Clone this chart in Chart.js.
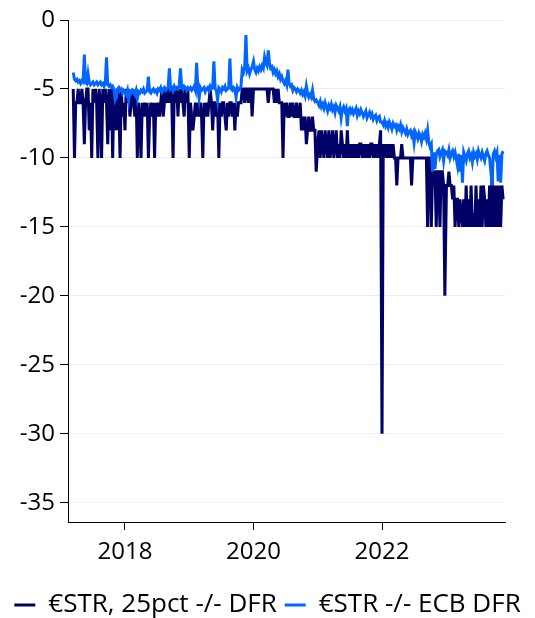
<!DOCTYPE html>
<html>
<head>
<meta charset="utf-8">
<script src="https://cdn.jsdelivr.net/npm/chart.js@4/dist/chart.umd.min.js"></script>
<style>
html, body {margin: 0; padding: 0; background: #fff}
#chart {display: block}
</style>
</head>
<body>
<canvas id="chart" width="535" height="618"></canvas>
<script>
'use strict'

//////////////////////////////////////////////////////////////////////
// weekly readings (bp), one array per year, first week given below
//////////////////////////////////////////////////////////////////////
const week_starts = ['2017-03-13', '2018-01-01', '2019-01-01', '2020-01-01', '2021-01-01', '2022-01-01', '2023-01-02']

// €STR, 25th percentile minus DFR
const pct25_2017 = [-5,-10,-6,-6,-5,-6,-6,-5,-6,-9, -6,-5,-5,-8,-6,-10,-5,-6,-5,-6, -10,-5,-6,-10,-5,-6,-5,-6,-9,-5, -8,-5,-10,-5,-6,-8,-5,-6,-10,-5, -7,-6]
const pct25_2018 = [-8,-5,-6,-5,-7,-6,-5,-6,-7,-5, -10,-6,-7,-10,-6,-7,-6,-7,-6,-10, -7,-6,-7,-6,-10,-6,-7,-6,-7,-6, -5,-7,-6,-5,-6,-5,-6,-5,-6,-10, -5,-6,-5,-7,-5,-6,-5,-6,-7,-5, -6,-5]
const pct25_2019 = [-10,-6,-7,-8,-7,-6,-7,-6,-7,-6, -7,-10,-6,-7,-6,-7,-6,-5,-6,-8, -6,-6,-7,-6,-10,-6,-7,-6,-6,-7, -8,-6,-7,-6,-6,-7,-6,-8,-6,-7, -6,-6,-6,-5,-5,-6,-5,-5,-6,-5, -5,-7]
const pct25_2020 = [-5,-5,-5,-5,-5,-5,-5,-5,-5,-5, -5,-5,-6,-5,-5,-5,-5,-6,-5,-6, -5,-6,-6,-6,-10,-6,-7,-6,-7,-7, -6,-7,-6,-7,-7,-6,-7,-7,-6,-8, -7,-8,-7,-9,-8,-7,-8,-8,-7,-8, -8,-11]
const pct25_2021 = [-9,-8,-10,-8,-9,-10,-8,-9,-10,-8, -10,-9,-8,-10,-9,-8,-10,-9,-10,-8, -9,-10,-9,-10,-8,-10,-9,-10,-9,-10, -9,-10,-9,-10,-9,-9,-10,-9,-10,-9, -10,-9,-10,-9,-9,-10,-9,-10,-9,-10, -9,-8]
const pct25_2022 = [-30,-9,-10,-9,-10,-9,-10,-9,-10,-9, -10,-10,-12,-10,-10,-10,-9,-10,-10,-10, -10,-10,-10,-10,-12,-10,-10,-10,-10,-10, -10,-10,-10,-10,-10,-10,-10,-15,-10,-10, -15,-11,-11,-11,-15,-11,-11,-15,-11,-11, -12,-20]
const pct25_2023 = [-12,-12,-11,-12,-12,-13,-12,-15,-13,-13, -15,-13,-14,-15,-13,-15,-12,-15,-13,-15, -12,-15,-14,-15,-12,-15,-13,-15,-12,-15, -12,-13,-15,-13,-15,-12,-15,-11,-15,-12, -15,-12,-15,-12,-15,-12,-13]

// €STR minus ECB DFR
const spread_2017 = [-3.8,-4.3,-4.4,-4.3,-4.5,-4.4,-4.6,-4.4,-4.5,-2.5, -4.5,-4.6,-3.9,-4.5,-4.7,-4.6,-4.5,-4.7,-4.6,-4.5, -4.7,-4.6,-4.5,-4.7,-4.6,-4.8,-4.6,-2.7,-4.7,-4.8, -4.7,-4.9,-4.8,-5.0,-5.8,-5.6,-5.0,-4.9,-5.1,-5.0, -5.3,-5.1]
const spread_2018 = [-5.2,-5.4,-5.1,-5.8,-5.2,-5.3,-5.1,-5.2,-5.4,-5.1, -5.7,-5.2,-5.3,-5.1,-5.2,-5.0,-5.3,-5.2,-5.1,-4.1, -5.2,-5.3,-5.1,-5.0,-5.2,-5.1,-5.3,-5.0,-5.1,-4.9, -5.2,-5.0,-4.9,-5.1,-5.0,-4.9,-3.5,-5.0,-4.9,-5.1, -4.8,-5.0,-4.9,-5.0,-4.8,-3.5,-4.9,-5.0,-4.8,-4.9, -5.1,-4.9]
const spread_2019 = [-5.0,-4.9,-5.1,-5.0,-4.8,-5.1,-3.1,-5.0,-5.7,-4.9, -5.1,-5.0,-4.9,-5.2,-5.0,-4.9,-5.1,-4.8,-5.0,-4.9, -3.0,-5.0,-5.1,-5.8,-4.9,-5.0,-5.2,-4.9,-5.0,-4.8, -5.1,-5.0,-4.9,-2.8,-5.0,-5.1,-4.9,-5.0,-5.6,-4.9, -5.1,-5.0,-4.8,-3.6,-3.8,-3.4,-1.1,-3.7,-3.5,-3.9, -3.6,-3.4]
const spread_2020 = [-3.0,-3.6,-3.8,-3.5,-3.7,-3.4,-3.6,-3.3,-3.5,-2.7, -3.1,-3.3,-2.2,-3.1,-3.5,-3.4,-3.8,-3.6,-3.9,-3.7, -4.1,-3.9,-4.3,-4.1,-4.4,-4.6,-4.4,-4.7,-3.6,-4.6, -4.8,-4.7,-5.1,-4.9,-5.0,-5.2,-5.0,-5.1,-5.3,-5.1, -5.4,-5.2,-5.5,-4.8,-5.3,-5.6,-5.4,-5.6,-5.1,-5.7, -5.9,-5.8]
const spread_2021 = [-6.0,-6.2,-5.9,-6.3,-6.1,-6.4,-6.0,-6.3,-6.6,-6.2, -6.4,-6.1,-6.5,-6.3,-6.7,-6.2,-6.4,-6.6,-6.3,-7.1, -6.5,-6.3,-6.6,-6.4,-7.7,-6.5,-6.4,-6.7,-6.5,-6.8, -6.6,-6.4,-6.9,-6.6,-6.8,-6.5,-6.7,-7.0,-6.8,-6.6, -7.1,-6.9,-6.7,-7.0,-6.8,-7.2,-7.0,-6.9,-7.3,-7.1, -7.0,-7.4]
const spread_2022 = [-7.4,-7.6,-7.3,-7.7,-7.5,-7.8,-7.4,-7.6,-7.9,-7.5, -7.7,-7.6,-8.0,-7.7,-7.9,-7.6,-8.1,-7.8,-8.0,-8.2, -7.9,-8.3,-8.1,-8.0,-8.4,-8.2,-8.9,-8.1,-8.3,-8.6, -8.2,-8.4,-8.8,-8.3,-8.5,-8.2,-8.6,-8.0,-8.9,-9.2, -9.0,-11.0,-9.6,-10.8,-9.8,-9.5,-9.4,-9.9,-9.6,-9.4, -10.2,-9.5]
const spread_2023 = [-9.6,-9.8,-9.4,-10.0,-9.7,-9.5,-9.9,-9.6,-10.1,-10.6, -9.7,-11.0,-9.8,-11.8,-9.6,-9.9,-10.2,-9.7,-9.5,-10.0, -9.8,-10.3,-9.6,-9.9,-9.7,-10.1,-9.5,-9.8,-10.0,-9.6, -9.9,-10.2,-9.7,-9.5,-9.8,-10.0,-10.9,-12.0,-9.7,-9.5, -9.9,-9.6,-11.7,-9.8,-11.8,-9.7,-9.5]

const series_names = ['€STR, 25pct -/- DFR', '€STR -/- ECB DFR']
const series_colors = ['#000066', '#0066ff']
const x_ticks = [2018, 2020, 2022]
const y_ticks = [0, -5, -10, -15, -20, -25, -30, -35]

//////////////////////////////////////////////////////////////////////
// dates -> decimal years, so a plain linear axis can be used
//////////////////////////////////////////////////////////////////////
function toYear(ms){
    const d = new Date(ms)
    const y = d.getUTCFullYear()
    const y0 = Date.UTC(y, 0, 1)
    const y1 = Date.UTC(y + 1, 0, 1)
    return y + (ms - y0) / (y1 - y0)
}

function buildPoints(yearArrays){
    let points = []
    for(var k = 0; k < yearArrays.length; k++){
        const parts = week_starts[k].split('-').map(Number)
        yearArrays[k].forEach((v, i) => {
            const ms = Date.UTC(parts[0], parts[1] - 1, parts[2] + 7 * i)
            points.push({x: toYear(ms), y: v})
        })
    }
    return points
}

const pct25_points = buildPoints([pct25_2017, pct25_2018, pct25_2019, pct25_2020, pct25_2021, pct25_2022, pct25_2023])
const spread_points = buildPoints([spread_2017, spread_2018, spread_2019, spread_2020, spread_2021, spread_2022, spread_2023])

//////////////////////////////////////////////////////////////////////
// draw chart
//////////////////////////////////////////////////////////////////////
const family = "'Open Sans', 'Noto Sans', sans-serif"
const tick_font = {family: family, size: 24}
const legend_font = {family: family, size: 26}

const ctx = document.getElementById('chart')
const chart = new Chart(ctx, {
    type: 'line',
    data: {
        datasets: [{
            label: series_names[0],
            data: pct25_points,
            borderColor: series_colors[0],
            backgroundColor: series_colors[0],
            borderWidth: 3,
            pointRadius: 0,
            order: 1
        }, {
            label: series_names[1],
            data: spread_points,
            borderColor: series_colors[1],
            backgroundColor: series_colors[1],
            borderWidth: 3,
            pointRadius: 0,
            order: 0
        }]
    },
    options: {
        responsive: false,
        animation: false,
        devicePixelRatio: 1,
        layout: {padding: {top: 20, right: 0, left: 0, bottom: 0}},
        scales: {
            x: {
                type: 'linear',
                min: 2017.113,
                max: 2023.914,
                afterBuildTicks: scale => { scale.ticks = x_ticks.map(v => ({value: v})) },
                afterFit: scale => { scale.height = 62 },
                ticks: {font: tick_font, color: '#000', padding: 8, callback: v => String(v)},
                grid: {drawOnChartArea: false, tickLength: 8, color: '#000'},
                border: {color: '#000', width: 1}
            },
            y: {
                min: -36.4,
                max: 0,
                afterBuildTicks: scale => { scale.ticks = y_ticks.map(v => ({value: v})) },
                afterFit: scale => { scale.width = 68 },
                ticks: {font: tick_font, color: '#000', padding: 5},
                grid: {color: '#eeeeee', tickColor: '#000', tickLength: 8},
                border: {color: '#000', width: 1}
            },
            // empty right-hand gutter, keeps the plot ending at the same place
            gutter: {
                position: 'right',
                grid: {display: false},
                ticks: {display: false},
                border: {display: false},
                afterFit: scale => { scale.width = 30 }
            }
        },
        plugins: {
            legend: {
                position: 'bottom',
                maxHeight: 34,
                labels: {
                    font: legend_font,
                    color: '#000',
                    boxWidth: 21,
                    boxHeight: 3,
                    padding: 8,
                    sort: (a, b) => a.datasetIndex - b.datasetIndex,
                    generateLabels: chart => Chart.defaults.plugins.legend.labels.generateLabels(chart).map(item => {
                        item.lineWidth = 0
                        return item
                    })
                }
            },
            tooltip: {enabled: false}
        }
    }
})
</script>
</body>
</html>
